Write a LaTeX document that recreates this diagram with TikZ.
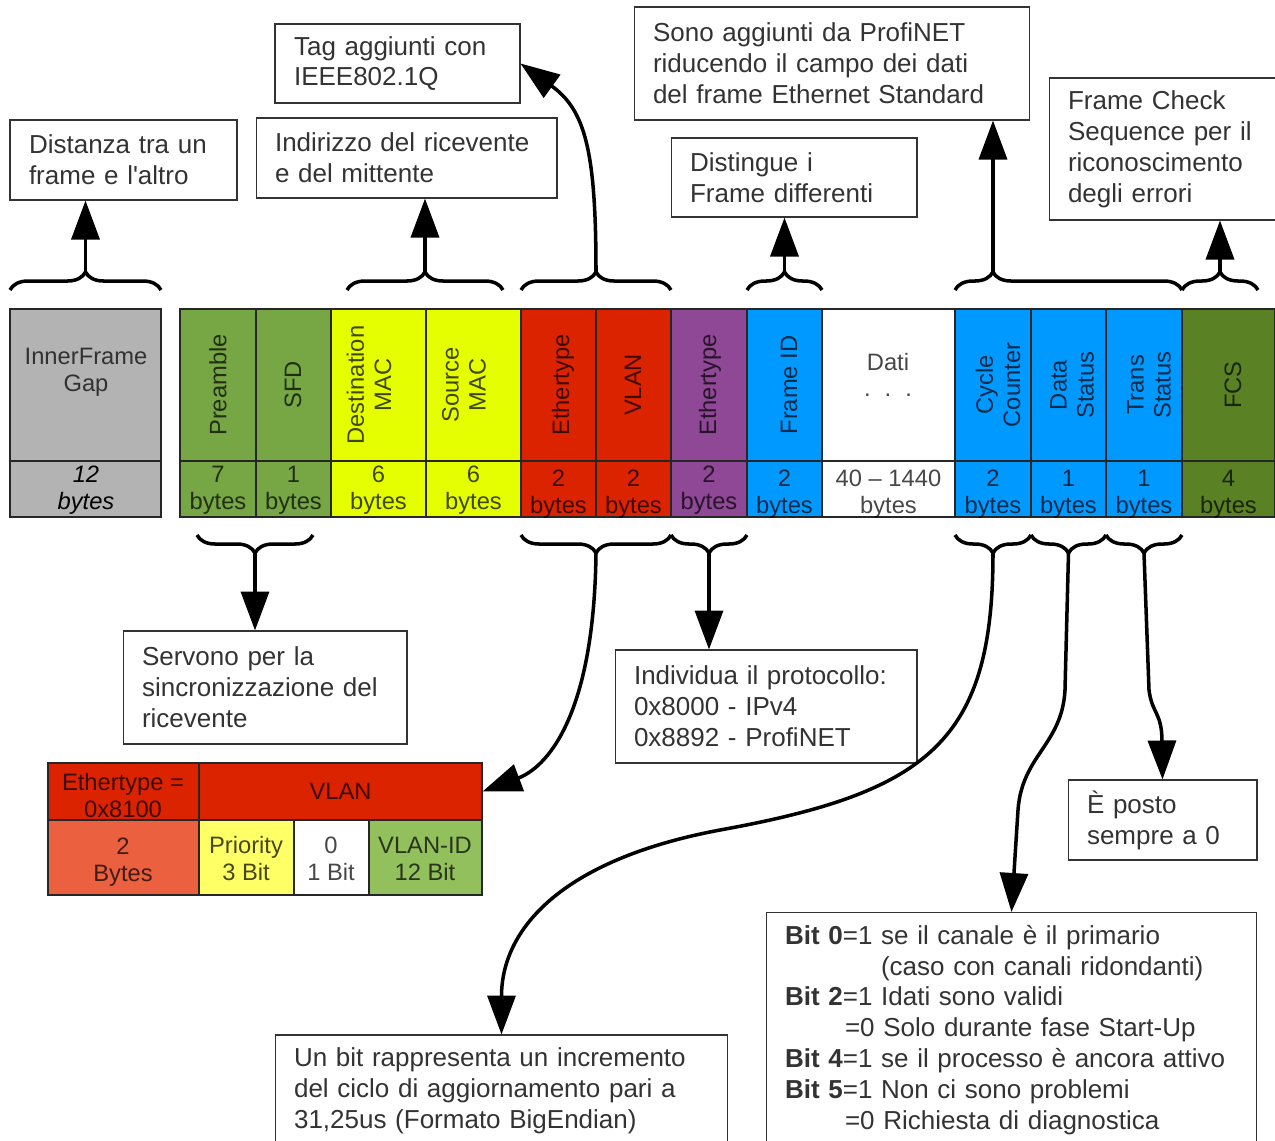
\documentclass[tikz,border=0pt]{standalone}
\usepackage{fontspec}
\setmainfont{Liberation Sans}
\usetikzlibrary{decorations.pathreplacing,arrows.meta}

\definecolor{txt}{RGB}{51,51,51}
\definecolor{gapgray}{RGB}{179,179,179}
\definecolor{syncgreen}{RGB}{119,166,68}
\definecolor{macyellow}{RGB}{230,255,0}
\definecolor{vlanred}{RGB}{220,35,0}
\definecolor{ethpurple}{RGB}{142,72,150}
\definecolor{pnblue}{RGB}{0,153,255}
\definecolor{fcsgreen}{RGB}{90,130,36}
\definecolor{bytesorange}{RGB}{235,97,63}
\definecolor{prioyellow}{RGB}{255,255,102}
\definecolor{vidgreen}{RGB}{146,192,92}

\tikzset{
  cellbox/.style={draw=black!85, line width=0.6pt},
  hdr/.style={font=\fontsize{13.5}{15.4}\selectfont, align=center, text=black, text opacity=0.72, inner sep=0pt},
  note/.style={draw=black!80, line width=0.6pt, fill=white, font=\fontsize{14.8}{17.6}\selectfont,
    text=txt, align=left, inner xsep=0.38cm, inner ysep=0pt},
  conn/.style={line width=2pt, -{Triangle[length=0.78cm,width=0.56cm]}},
  curly/.style={line width=2pt, decorate, decoration={brace, amplitude=0.36cm}},
}

% one field of the frame: name, x1, x2, colour, rotated header, header x, size, size y
\newcommand\framefield[8]{%
  \path[cellbox, fill=#4] (#2,309) rectangle (#3,517);
  \draw[cellbox] (#2,461) -- (#3,461);
  \node[hdr, rotate=90] (#1-h) at (#6,385) {#5};
  \node[hdr] (#1-b) at ({(#2+#3)/2},#8) {#7\\bytes};
}

\begin{document}
\begin{tikzpicture}[x=0.02cm, y=-0.02cm]
\useasboundingbox (0,0) rectangle (1275,1140);
\clip (0,0) rectangle (1275,1140);

% ---------------- frame fields ----------------
\path[cellbox, fill=gapgray] (10,309) rectangle (161,517);
\draw[cellbox] (10,461) -- (161,461);
\node[hdr] (gap-h) at (86,372.5) {InnerFrame\\Gap};
\node[hdr, font=\fontsize{13.5}{15.4}\selectfont\itshape, text opacity=1] (gap-b) at (86,490.5) {12\\bytes};

\framefield{pre}{180}{256}{syncgreen}{Preamble}{218}{7}{490.5}
\framefield{sfd}{256}{331}{syncgreen}{SFD}{293}{1}{490.5}
\framefield{dmac}{331}{426}{macyellow}{Destination\\MAC}{369}{6}{490.5}
\framefield{smac}{426}{521}{macyellow}{Source\\MAC}{464}{6}{490.5}
\framefield{eth}{521}{596}{vlanred}{Ethertype}{563}{2}{494}
\framefield{vlan}{596}{671}{vlanred}{VLAN}{633}{2}{494}
\framefield{ety}{671}{747}{ethpurple}{Ethertype}{710}{2}{490.5}
\framefield{fid}{747}{822}{pnblue}{Frame ID}{789}{2}{494}
\framefield{dati}{822}{955}{white}{}{888}{40 – 1440}{494}
\node[hdr] (dati-t) at (888,362) {Dati};
\node[hdr] (dati-d) at (888,395) {.\hspace{8pt}.\hspace{8pt}.};
\framefield{cyc}{955}{1031}{pnblue}{Cycle\\Counter}{998}{2}{494}
\framefield{dst}{1031}{1106}{pnblue}{Data\\Status}{1072}{1}{494}
\framefield{trs}{1106}{1182}{pnblue}{Trans\\Status}{1149}{1}{494}
\framefield{fcs}{1182}{1275}{fcsgreen}{FCS}{1233}{4}{494}

% ---------------- VLAN tag detail ----------------
\path[cellbox, fill=vlanred] (48,763) rectangle (199,820);
\node[hdr] (vt-eth) at (123,795.5) {Ethertype =\\0x8100};
\node[cellbox, fill=vlanred, minimum width=5.66cm, minimum height=1.14cm, inner sep=0pt,
      font=\fontsize{13.5}{15.4}\selectfont, text=black, text opacity=0.72] (vt-vlan) at (340.5,791.5) {VLAN};
\path[cellbox, fill=bytesorange] (48,820) rectangle (199,895);
\path[cellbox, fill=prioyellow] (199,820) rectangle (294,895);
\path[cellbox, fill=white] (294,820) rectangle (369,895);
\path[cellbox, fill=vidgreen] (369,820) rectangle (482,895);
\node[hdr] (vt-bytes) at (123,862) {2\\Bytes};
\node[hdr] (vt-prio) at (246,858.5) {Priority\\3 Bit};
\node[hdr] (vt-cfi) at (331,858.5) {0\\1 Bit};
\node[hdr] (vt-id) at (425,858.5) {VLAN-ID\\12 Bit};

% ---------------- notes ----------------
\node[note, text width=3.78cm, minimum height=1.6cm] (n-gap) at (123.5,160) {Distanza tra un\\frame e l\textquotesingle altro};
\node[note, text width=4.14cm, minimum height=1.58cm] (n-tag) at (397.5,63.5) {Tag aggiunti con\\IEEE802.1Q};
\node[note, text width=5.26cm, minimum height=1.6cm] (n-mac) at (406.5,158) {Indirizzo del ricevente\\e del mittente};
\node[note, text width=7.16cm, minimum height=2.26cm] (n-pn) at (832,63.5) {Sono aggiunti da ProfiNET\\riducendo il campo dei dati\\del frame Ethernet Standard};
\node[note, text width=4.16cm, minimum height=1.58cm] (n-fid) at (794,177.5) {Distingue i\\Frame differenti};
\node[note, text width=4.26cm, minimum height=2.84cm] (n-fcs) at (1174.5,149) {Frame Check\\Sequence per il\\riconoscimento\\degli errori};
\node[note, text width=4.92cm, minimum height=2.26cm] (n-sync) at (265,687.5) {Servono per la\\sincronizzazione del\\ricevente};
\node[note, text width=5.28cm, minimum height=2.26cm] (n-proto) at (766,706.5) {Individua il protocollo:\\0x8000 - IPv4\\0x8892 - ProfiNET};
\node[note, text width=3.02cm, minimum height=1.6cm] (n-trs) at (1162.5,820) {È posto\\sempre a 0};
\node[note, text width=8.3cm, minimum height=2.24cm] (n-cyc) at (501.5,1091) {Un bit rappresenta un incremento\\del ciclo di aggiornamento pari a\\31,25us (Formato BigEndian)};
\node[note, text width=9.06cm, minimum height=4.7cm] (n-dst) at (1011.5,1030) {%
  \textbf{Bit 0}=1 se il canale è il primario\\
  \hspace*{1.92cm}(caso con canali ridondanti)\\
  \textbf{Bit 2}=1 Idati sono validi\\
  \hspace*{1.2cm}=0 Solo durante fase Start-Up\\
  \textbf{Bit 4}=1 se il processo è ancora attivo\\
  \textbf{Bit 5}=1 Non ci sono problemi\\
  \hspace*{1.2cm}=0 Richiesta di diagnostica};

% ---------------- braces above the frame ----------------
\draw[curly] (10,290) -- (161,290);
\draw[curly] (347,290) -- (503,290);
\draw[curly] (521,290) -- (671,290);
\draw[curly] (747,290) -- (822,290);
\draw[curly, decoration={aspect=0.167}] (955,290) -- (1182,290);
\draw[curly] (1182,290) -- (1258,290);
\coordinate (u-gap) at (85.5,272);
\coordinate (u-mac) at (425,272);
\coordinate (u-tag) at (596,272);
\coordinate (u-fid) at (784.5,272);
\coordinate (u-pn) at (993,272);
\coordinate (u-fcs) at (1220,272);

% ---------------- braces below the frame ----------------
\draw[curly] (313,535) -- (197,535);
\draw[curly] (671,535) -- (521,535);
\draw[curly] (747,535) -- (671,535);
\draw[curly] (1031,535) -- (955,535);
\draw[curly] (1106,535) -- (1031,535);
\draw[curly] (1182,535) -- (1106,535);
\coordinate (d-sync) at (255,553);
\coordinate (d-tag) at (596,553);
\coordinate (d-ety) at (709,553);
\coordinate (d-cyc) at (993,553);
\coordinate (d-dst) at (1068.5,553);
\coordinate (d-trs) at (1144,553);

% ---------------- connectors ----------------
\draw[conn] (u-gap) -- (u-gap |- n-gap.south);
\draw[conn] (u-mac) -- (u-mac |- n-mac.south);
\draw[conn] (u-tag) .. controls (596,150) and (585,110) .. (n-tag.east);
\draw[conn] (u-fid) -- (u-fid |- n-fid.south);
\draw[conn] (u-pn) -- (u-pn |- n-pn.south);
\draw[conn] (u-fcs) -- (u-fcs |- n-fcs.south);

\draw[conn] (d-sync) -- (d-sync |- n-sync.north);
\draw[conn] (d-tag) .. controls (594,720) and (545,768) .. (vt-vlan.east);
\draw[conn] (d-ety) -- (d-ety |- n-proto.north);
\draw[conn] (d-cyc) .. controls (993,740) and (930,792) .. (720,830)
                    .. controls (560,860) and (501.5,930) .. (n-cyc.north);
\draw[conn] (d-dst) -- (1065,690) .. controls (1062,745) and (1022,755) .. (1018,810) -- (n-dst.north);
\draw[conn] (d-trs) -- (1149,690) .. controls (1152,714) and (1162,712) .. (1162,742) -- (n-trs.north);
\end{tikzpicture}
\end{document}
